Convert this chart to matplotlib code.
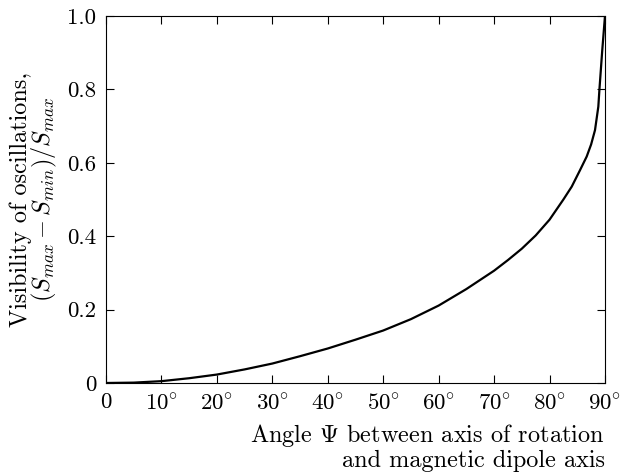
import matplotlib
matplotlib.use("Agg")
import matplotlib.pyplot as plt

plt.rcParams['font.family'] = 'serif'
plt.rcParams['font.serif'] = ['cmr10']
plt.rcParams['mathtext.fontset'] = 'cm'
plt.rcParams['axes.unicode_minus'] = False

# visibility curve
psi = [0, 5, 10, 15, 20, 25, 30, 35, 40, 45, 50, 55, 60, 65, 67.5, 70, 72.5,
       75, 77.5, 80, 82.5, 84, 85.5, 86.7, 87.5, 88.2, 88.8, 89.0, 89.5, 90]
vis = [0.0, 0.001, 0.005, 0.013, 0.023, 0.037, 0.053, 0.073, 0.094, 0.118,
       0.143, 0.174, 0.211, 0.256, 0.281, 0.306, 0.335, 0.366, 0.402, 0.445,
       0.500, 0.535, 0.580, 0.617, 0.650, 0.689, 0.753, 0.80, 0.905, 1.0]

xticks = [0, 10, 20, 30, 40, 50, 60, 70, 80, 90]
xlabels = ['0'] + [r'$%d^{\circ}$' % t for t in xticks[1:]]
yticks = [0, 0.2, 0.4, 0.6, 0.8, 1.0]
ylabels = ['0', '0.2', '0.4', '0.6', '0.8', '1.0']

fig = plt.figure(figsize=(6.21, 4.75), dpi=100)
ax = fig.add_axes([0.1707, 0.1937, 0.8035, 0.7726])
ax.plot(psi, vis, color='black', lw=1.6)
ax.set_xlim(0, 90)
ax.set_ylim(0, 1.0)
ax.set_xticks(xticks)
ax.set_xticklabels(xlabels, fontsize=16.5)
ax.set_yticks(yticks)
ax.set_yticklabels(ylabels, fontsize=16.5)
ax.tick_params(direction='in', top=True, right=True, length=6, width=0.8, pad=7)
for s in ax.spines.values():
    s.set_linewidth(0.8)

ax.set_xlabel('Angle $\\Psi$ between axis of rotation\nand magnetic dipole axis',
              fontsize=17.5, loc='right', multialignment='right', labelpad=6,
              linespacing=1.05)
ax.set_ylabel('Visibility of oscillations,\n$(S_{max}-S_{min})/S_{max}$',
              fontsize=17.5, multialignment='center', labelpad=6, linespacing=0.9)

fig.savefig('out.png', dpi=100)
